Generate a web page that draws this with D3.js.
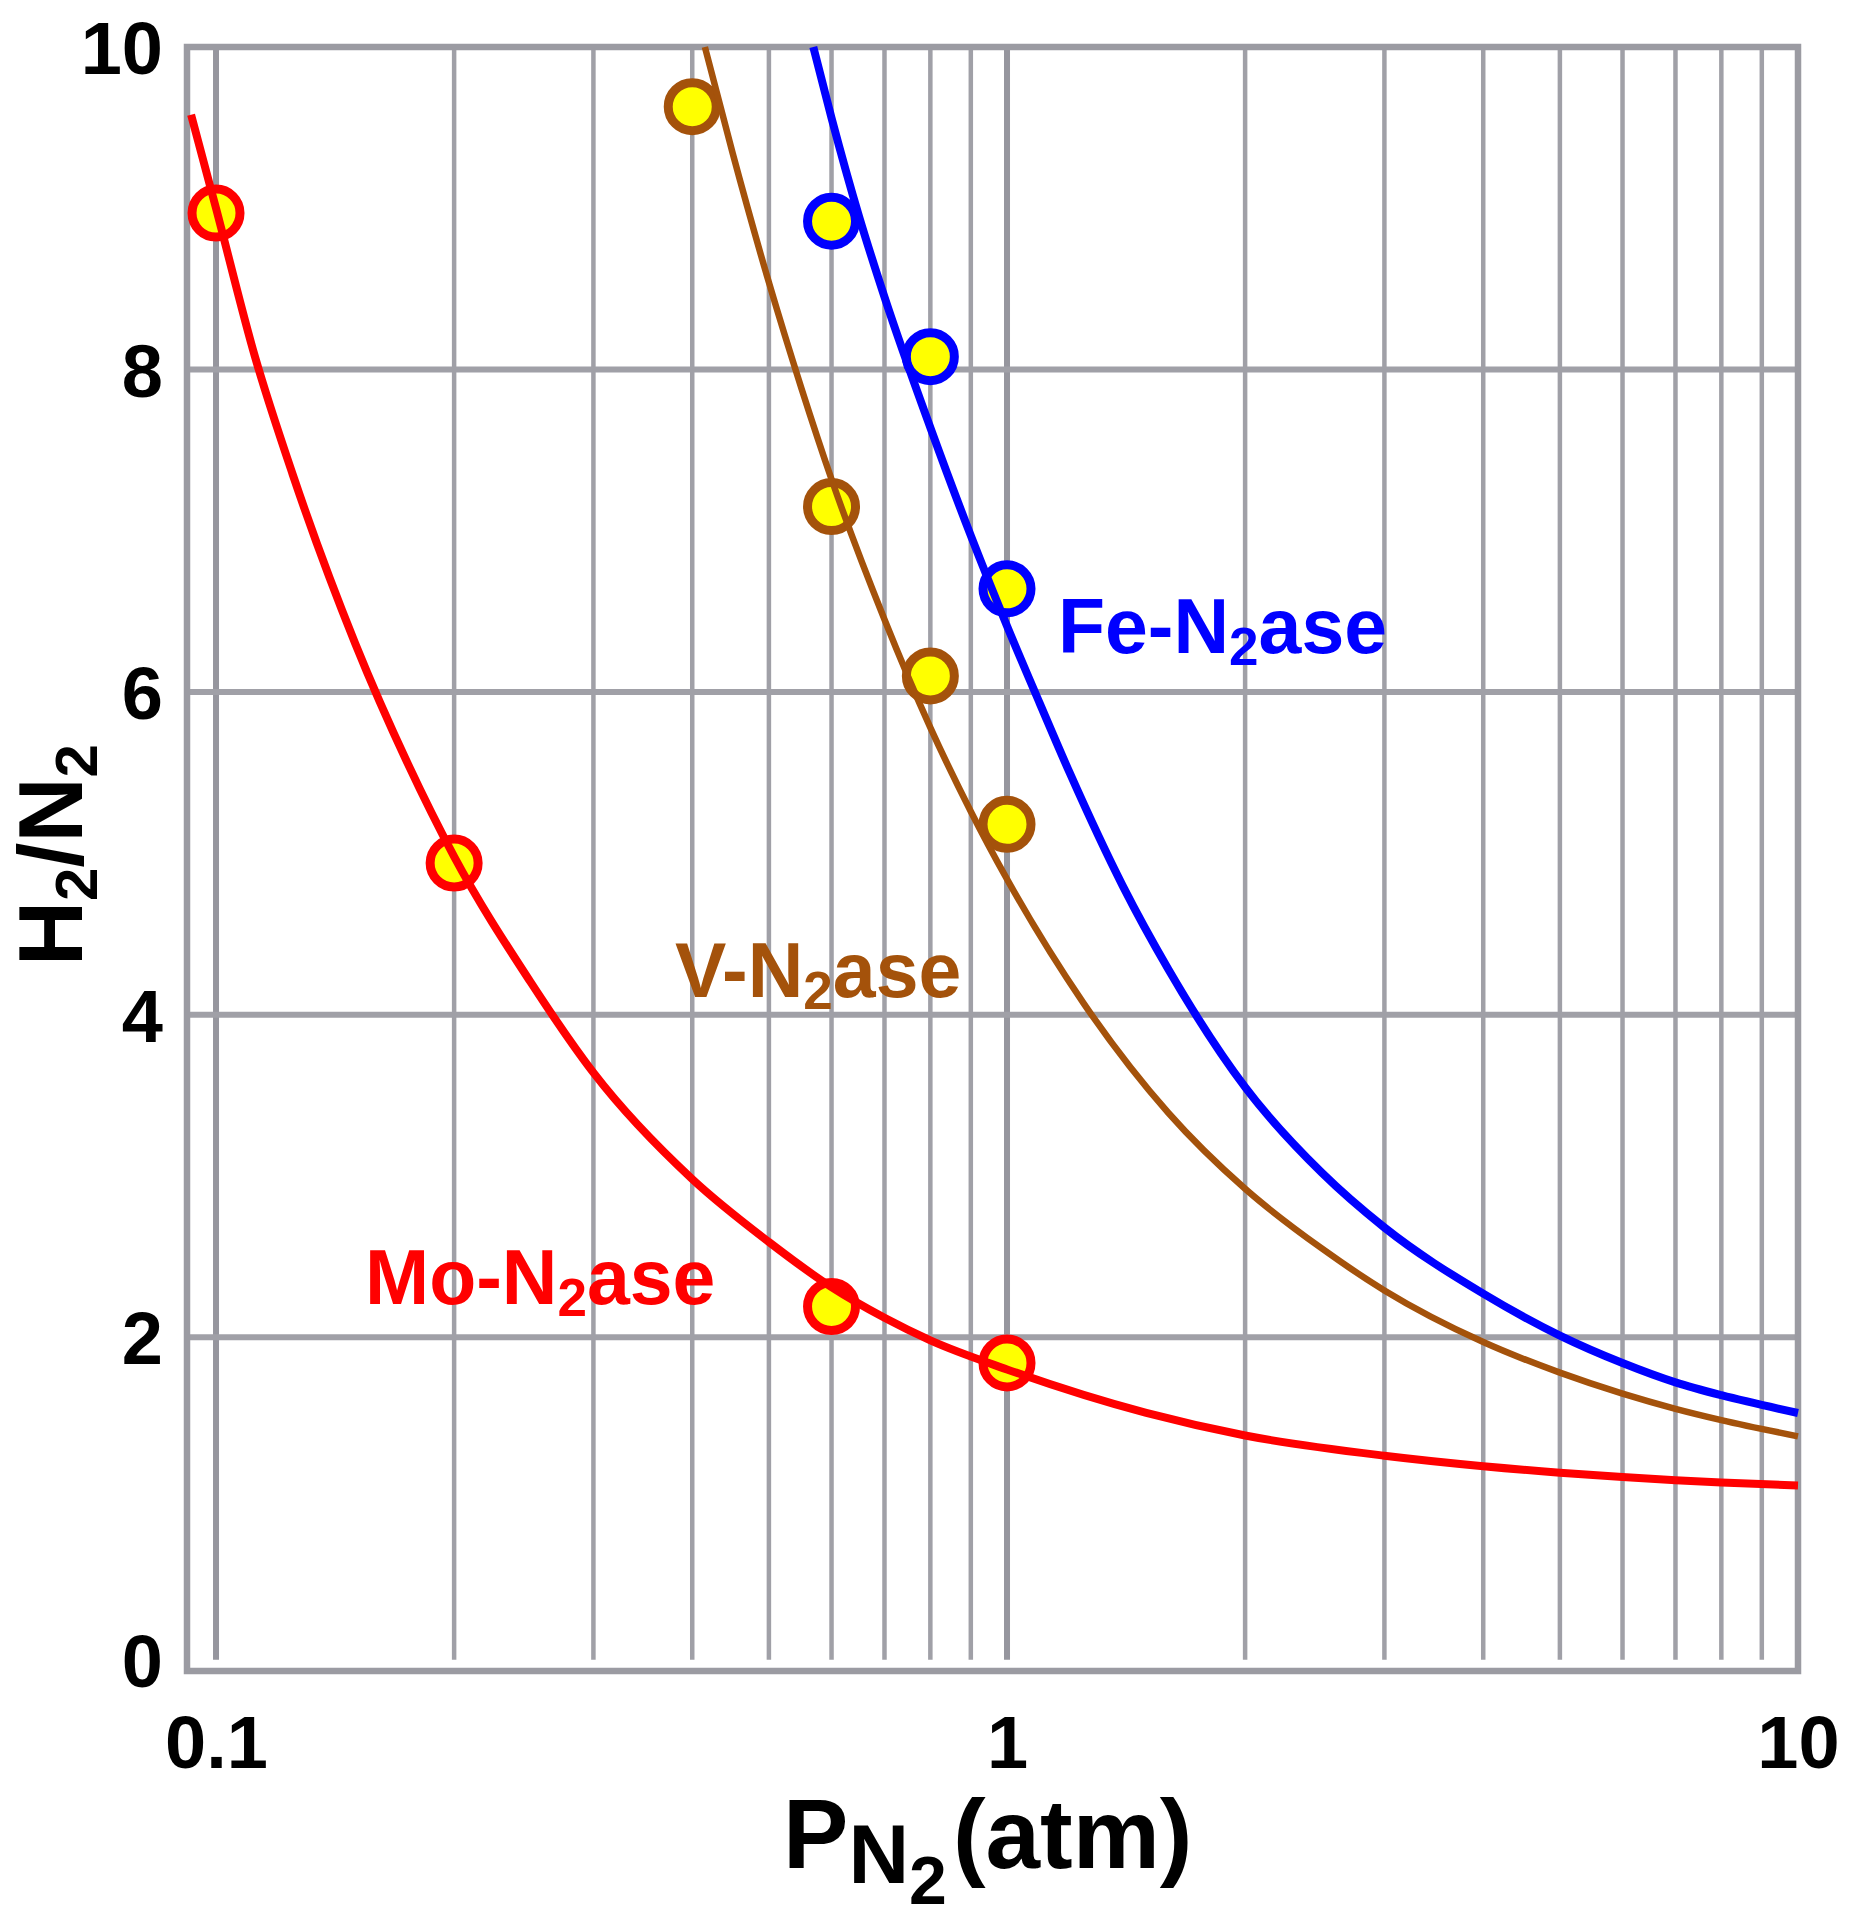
<!DOCTYPE html>
<html>
<head>
<meta charset="utf-8">
<script src="https://cdn.jsdelivr.net/npm/d3@7"></script>
<style>
  html, body { margin: 0; padding: 0; background: #ffffff; }
  svg { display: block; }
  text { font-family: "Liberation Sans", Arial, Helvetica, sans-serif; font-weight: bold; }
</style>
</head>
<body>
<svg id="chart" width="1849" height="1920"></svg>
<script>
// ---------------- data ----------------
const xTickValues = [0.1, 1, 10];
const xTickLabels = ["0.1", "1", "10"];
const yTickValues = [0, 2, 4, 6, 8, 10];
const yTickLabels = ["0", "2", "4", "6", "8", "10"];
const xGridValues = [0.1, 0.2, 0.3, 0.4, 0.5, 0.6, 0.7, 0.8, 0.9, 1, 2, 3, 4, 5, 6, 7, 8, 9, 10];
const xMajorGrid = [0.1, 1];
const yGridValues = [2, 4, 6, 8];

// fitted curves: [P_N2, H2/N2]
const moCurve = [[0.093, 9.58], [0.1, 9.0], [0.112, 8.08], [0.125, 7.35], [0.15, 6.3], [0.175, 5.55],
  [0.2, 4.98], [0.25, 4.2], [0.3, 3.64], [0.4, 2.98], [0.5, 2.59], [0.6, 2.31], [0.7, 2.12],
  [0.8, 1.98], [1.0, 1.80], [1.5, 1.53], [2, 1.39], [3, 1.265], [4, 1.2], [5, 1.16], [6, 1.133],
  [7, 1.113], [8, 1.099], [10, 1.08]];
const vCurve = [[0.415, 10.0], [0.45, 9.34], [0.5, 8.54], [0.55, 7.88], [0.6, 7.32], [0.7, 6.45],
  [0.8, 5.78], [0.9, 5.26], [1.0, 4.84], [1.25, 4.07], [1.6, 3.39], [2.0, 2.92], [2.5, 2.55],
  [3.0, 2.29], [4.0, 1.97], [5.0, 1.78], [6.0, 1.65], [7.0, 1.556], [8.0, 1.486], [10, 1.385]];
const feCurve = [[0.569, 10.0], [0.6, 9.56], [0.65, 8.95], [0.7, 8.45], [0.8, 7.64], [0.9, 6.97],
  [1.0, 6.41], [1.1, 5.93], [1.2, 5.50], [1.4, 4.80], [1.6, 4.28], [2.0, 3.55], [2.5, 3.02],
  [3.0, 2.68], [4.0, 2.27], [5.0, 2.01], [6.0, 1.84], [7.0, 1.72], [8.0, 1.64], [10, 1.53]];

// measured points
const moPoints = [[0.1, 8.97], [0.2, 4.94], [0.6, 2.19], [1.0, 1.84]];
const vPoints = [[0.4, 9.63], [0.6, 7.15], [0.8, 6.10], [1.0, 5.18]];
const fePoints = [[0.6, 8.92], [0.8, 8.08], [1.0, 6.64]];

const seriesNames = ["Mo", "V", "Fe"];
const seriesColors = { Mo: "#ff0000", V: "#a4520b", Fe: "#0000ff" };

// ---------------- drawing ----------------
(function () {
const svg = d3.select("#chart");
const pL = 187, pR = 1798, pT = 47, pB = 1671;

const x = d3.scaleLog().domain([0.0919, 10]).range([pL, pR]);
const y = d3.scaleLinear().domain([-0.07, 10]).range([pB, pT]);

const gridColor = "#a0a0a7";

// vertical gridlines
svg.append("g").selectAll("line").data(xGridValues).join("line")
  .attr("x1", d => x(d)).attr("x2", d => x(d))
  .attr("y1", y(10)).attr("y2", y(0))
  .attr("stroke", d => xMajorGrid.includes(d) ? "#96969e" : gridColor)
  .attr("stroke-width", d => xMajorGrid.includes(d) ? 6 : 4.5);

// horizontal gridlines
svg.append("g").selectAll("line").data(yGridValues).join("line")
  .attr("x1", pL).attr("x2", pR)
  .attr("y1", d => y(d)).attr("y2", d => y(d))
  .attr("stroke", gridColor).attr("stroke-width", 6);

// frame
svg.append("rect")
  .attr("x", pL).attr("y", pT)
  .attr("width", pR - pL).attr("height", pB - pT)
  .attr("fill", "none").attr("stroke", "#9b9ba2").attr("stroke-width", 6.5);

// axes (labels only)
const yAxis = d3.axisLeft(y).tickValues(yTickValues)
  .tickFormat((d, i) => yTickLabels[i]).tickSize(0).tickPadding(24);
const gy = svg.append("g").attr("transform", `translate(${pL},0)`).call(yAxis);
gy.select(".domain").remove();
gy.selectAll("text").attr("font-size", 74).attr("font-family", "Liberation Sans, Arial, sans-serif")
  .attr("font-weight", "bold").attr("fill", "#000").attr("dy", "0.36em");

const xAxis = d3.axisBottom(x).tickValues(xTickValues)
  .tickFormat((d, i) => xTickLabels[i]).tickSize(0).tickPadding(44);
const gx = svg.append("g").attr("transform", `translate(0,${pB})`).call(xAxis);
gx.select(".domain").remove();
gx.selectAll("text").attr("font-size", 74).attr("font-family", "Liberation Sans, Arial, sans-serif")
  .attr("font-weight", "bold").attr("fill", "#000");

// points (under the curves)
const pointSets = { Mo: moPoints, V: vPoints, Fe: fePoints };
seriesNames.forEach(s => {
  svg.append("g").selectAll("circle").data(pointSets[s]).join("circle")
    .attr("cx", d => x(d[0])).attr("cy", d => y(d[1]))
    .attr("r", 24)
    .attr("fill", "#ffff00")
    .attr("stroke", seriesColors[s]).attr("stroke-width", 9);
});

// curves
const line = d3.line().x(d => x(d[0])).y(d => y(d[1])).curve(d3.curveMonotoneX);
const curveSets = { Mo: moCurve, V: vCurve, Fe: feCurve };
const curveWidths = { Mo: 8, V: 6.5, Fe: 8 };
seriesNames.forEach(s => {
  svg.append("path").datum(curveSets[s])
    .attr("d", line)
    .attr("fill", "none")
    .attr("stroke", seriesColors[s])
    .attr("stroke-width", curveWidths[s])
    .attr("stroke-linecap", "butt");
});

// series labels
function seriesLabel(px, py, prefix, color) {
  const t = svg.append("text").attr("x", px).attr("y", py).attr("fill", color).attr("font-size", 77);
  t.append("tspan").text(prefix + "-N");
  t.append("tspan").attr("font-size", 53).attr("dy", 12).text("2");
  t.append("tspan").attr("dy", -12).text("ase");
}
seriesLabel(1058, 653, "Fe", seriesColors.Fe);
seriesLabel(675, 997, "V", seriesColors.V);
seriesLabel(365, 1304, "Mo", seriesColors.Mo);

// y axis title: H2/N2
const yt = svg.append("text")
  .attr("transform", `translate(82,855) rotate(-90)`)
  .attr("text-anchor", "middle").attr("font-size", 90).attr("fill", "#000");
yt.append("tspan").text("H");
yt.append("tspan").attr("font-size", 60).attr("dy", 15).text("2");
yt.append("tspan").attr("dy", -15).text("/N");
yt.append("tspan").attr("font-size", 60).attr("dy", 15).text("2");

// x axis title: P_N2 (atm)
const xt = svg.append("text").attr("x", 783).attr("y", 1868)
  .attr("text-anchor", "start").attr("font-size", 98).attr("fill", "#000");
xt.append("tspan").text("P");
xt.append("tspan").attr("font-size", 84).attr("dy", 15).text("N");
xt.append("tspan").attr("font-size", 68).attr("dy", 21).text("2");
xt.append("tspan").attr("dy", -36).attr("dx", 6).text("(atm)");
})();
</script>
</body>
</html>
